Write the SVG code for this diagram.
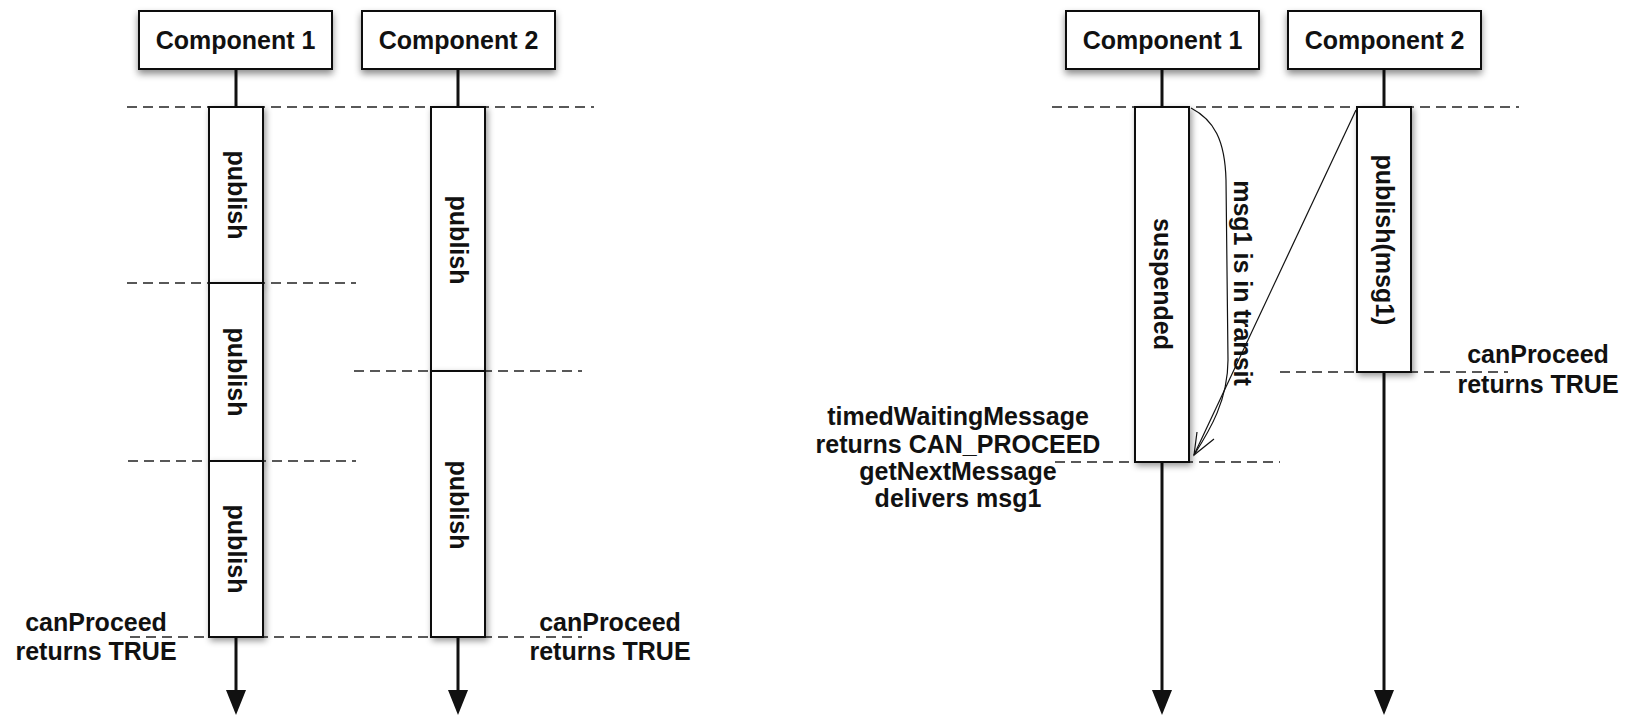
<svg xmlns="http://www.w3.org/2000/svg" width="1628" height="716" viewBox="0 0 1628 716">
  <style>
    text { font-family: "Liberation Sans", Arial, Helvetica, sans-serif; font-weight: bold; font-size: 25px; fill: #111; }
    .box { fill: #fff; stroke: #111; stroke-width: 2; filter: url(#sh); }
    .bar { fill: #fff; stroke: #111; stroke-width: 2; filter: url(#sh2); }
    .life { stroke: #111; stroke-width: 3; fill: none; }
    .dash { stroke: #222; stroke-width: 1.6; stroke-dasharray: 10 6; fill: none; }
    .thin { stroke: #111; stroke-width: 1.2; fill: none; }
    .mid { text-anchor: middle; }
  </style>
  <defs>
    <filter id="sh" x="-20%" y="-30%" width="140%" height="170%">
      <feDropShadow dx="0" dy="4" stdDeviation="3.5" flood-color="#000" flood-opacity="0.45"/>
    </filter>
    <filter id="sh2" x="-50%" y="-10%" width="200%" height="120%">
      <feDropShadow dx="2" dy="3" stdDeviation="3" flood-color="#000" flood-opacity="0.4"/>
    </filter>
    <marker id="ah" viewBox="0 0 25 20" refX="10" refY="10" markerWidth="25" markerHeight="20" markerUnits="userSpaceOnUse" orient="auto">
      <path d="M0,0 L25,10 L0,20 Z" fill="#111"/>
    </marker>
  </defs>

  <g id="connectors">
    <!-- left diagram dashed lines -->
    <line class="dash" x1="127" y1="107" x2="594" y2="107"/>
    <line class="dash" x1="127" y1="283" x2="356" y2="283"/>
    <line class="dash" x1="128" y1="461" x2="356" y2="461"/>
    <line class="dash" x1="354" y1="371" x2="582" y2="371"/>
    <line class="dash" x1="130" y1="637" x2="582" y2="637"/>
    <!-- left lifelines -->
    <line class="life" x1="236" y1="69" x2="236" y2="107"/>
    <line class="life" x1="458" y1="69" x2="458" y2="107"/>
    <line class="life" x1="236" y1="637" x2="236" y2="700" marker-end="url(#ah)"/>
    <line class="life" x1="458" y1="637" x2="458" y2="700" marker-end="url(#ah)"/>
    <!-- right diagram dashed lines -->
    <line class="dash" x1="1052" y1="107" x2="1519" y2="107"/>
    <line class="dash" x1="1055" y1="462" x2="1280" y2="462"/>
    <line class="dash" x1="1280" y1="372" x2="1508" y2="372"/>
    <!-- right lifelines -->
    <line class="life" x1="1162" y1="69" x2="1162" y2="107"/>
    <line class="life" x1="1384" y1="69" x2="1384" y2="107"/>
    <line class="life" x1="1162" y1="463" x2="1162" y2="700" marker-end="url(#ah)"/>
    <line class="life" x1="1384" y1="373" x2="1384" y2="700" marker-end="url(#ah)"/>
  </g>

  <g id="left-comp1">
    <rect class="box" x="139" y="11" width="193" height="58"/>
    <text class="mid" x="235.5" y="49">Component 1</text>
  </g>
  <g id="left-comp2">
    <rect class="box" x="362" y="11" width="193" height="58"/>
    <text class="mid" x="458.5" y="49">Component 2</text>
  </g>

  <g id="left-bar1-seg1">
    <rect class="bar" x="209" y="107" width="54" height="176"/>
    <text class="mid" transform="translate(236,195) rotate(90)" y="8">publish</text>
  </g>
  <g id="left-bar1-seg2">
    <rect class="bar" x="209" y="283" width="54" height="178"/>
    <text class="mid" transform="translate(236,372) rotate(90)" y="8">publish</text>
  </g>
  <g id="left-bar1-seg3">
    <rect class="bar" x="209" y="461" width="54" height="176"/>
    <text class="mid" transform="translate(236,549) rotate(90)" y="8">publish</text>
  </g>
  <g id="left-bar2-seg1">
    <rect class="bar" x="431" y="107" width="54" height="264"/>
    <text class="mid" transform="translate(458,240) rotate(90)" y="8">publish</text>
  </g>
  <g id="left-bar2-seg2">
    <rect class="bar" x="431" y="371" width="54" height="266"/>
    <text class="mid" transform="translate(458,505) rotate(90)" y="8">publish</text>
  </g>

  <g id="left-label1">
    <text class="mid" x="96" y="631">canProceed</text>
    <text class="mid" x="96" y="660">returns TRUE</text>
  </g>
  <g id="left-label2">
    <text class="mid" x="610" y="631">canProceed</text>
    <text class="mid" x="610" y="660">returns TRUE</text>
  </g>

  <g id="right-comp1">
    <rect class="box" x="1066" y="11" width="193" height="58"/>
    <text class="mid" x="1162.5" y="49">Component 1</text>
  </g>
  <g id="right-comp2">
    <rect class="box" x="1288" y="11" width="193" height="58"/>
    <text class="mid" x="1384.5" y="49">Component 2</text>
  </g>

  <g id="right-suspended">
    <rect class="bar" x="1135" y="107" width="54" height="355"/>
    <text class="mid" transform="translate(1162,284) rotate(90)" y="8">suspended</text>
  </g>
  <g id="right-publish">
    <rect class="bar" x="1357" y="107" width="54" height="265"/>
    <text class="mid" transform="translate(1384,240) rotate(90)" y="8">publish(msg1)</text>
  </g>

  <g id="transit">
    <path class="thin" d="M1191,108 C1214,120 1225,140 1226,180 L1228,360 C1228,400 1210,430 1194,455"/>
    <line class="thin" x1="1356" y1="110" x2="1194" y2="455"/>
    <path class="thin" d="M1197,432 L1194,455 L1214,439"/>
    <text class="mid" transform="translate(1242,283) rotate(90)" y="8">msg1 is in transit</text>
  </g>

  <g id="right-label-left">
    <text class="mid" x="958" y="425">timedWaitingMessage</text>
    <text class="mid" x="958" y="453">returns CAN_PROCEED</text>
    <text class="mid" x="958" y="480">getNextMessage</text>
    <text class="mid" x="958" y="507">delivers msg1</text>
  </g>
  <g id="right-label-right">
    <text class="mid" x="1538" y="363">canProceed</text>
    <text class="mid" x="1538" y="393">returns TRUE</text>
  </g>
</svg>
